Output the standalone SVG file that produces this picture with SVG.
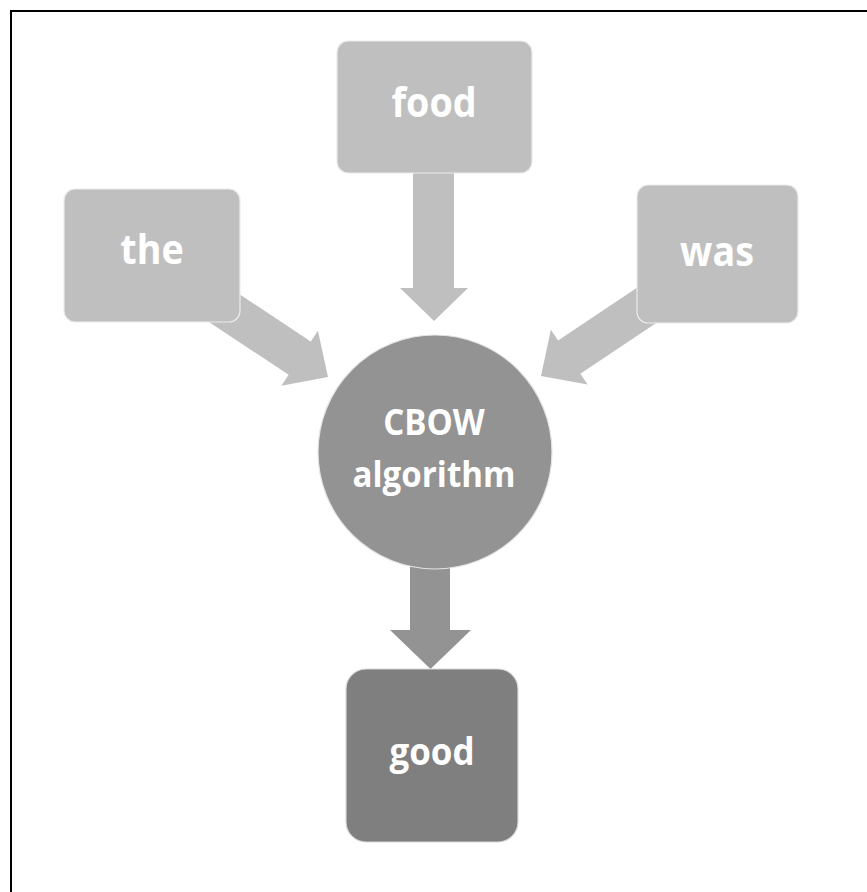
<svg xmlns="http://www.w3.org/2000/svg" width="867" height="892" viewBox="0 0 867 892">
  <style>
    .box-light { fill: #bfbfbf; stroke: #ececec; stroke-width: 1.2; }
    .box-dark { fill: #7f7f7f; stroke: #d8d8d8; stroke-width: 1.2; }
    .hub { fill: #939393; stroke: #e4e4e4; stroke-width: 1.2; }
    .arrow-light { fill: #bfbfbf; }
    .arrow-dark { fill: #939393; }
    .label { font-family: "Open Sans", "Liberation Sans", sans-serif; font-weight: 700; fill: #ffffff; text-anchor: middle; }
  </style>
  <defs>
    <!-- block arrow pointing along +x with its tip at the origin -->
    <polygon id="diag-arrow" points="-150,-20 -34,-20 -34,-33 0,0 -34,33 -34,20 -150,20"/>
  </defs>

  <rect width="867" height="892" fill="#ffffff"/>
  <!-- outer frame, open on the right and bottom edges -->
  <rect x="11" y="11" width="900" height="900" fill="none" stroke="#000000" stroke-width="2"/>

  <g id="connectors">
    <use href="#diag-arrow" class="arrow-light" transform="translate(328,377) rotate(33.6)"/>
    <use href="#diag-arrow" class="arrow-light" transform="translate(541,376) rotate(146.2)"/>
    <polygon class="arrow-light" points="413,160 454,160 454,288 468,288 434,321 400,288 413,288"/>
    <polygon class="arrow-dark" points="410,560 450,560 450,630 471,630 430.5,669 390,630 410,630"/>
  </g>

  <!-- labels use a slightly condensed bold face -->
  <g id="node-the">
    <rect class="box-light" x="64" y="189" width="176" height="133" rx="11"/>
    <text class="label" transform="translate(152,264) scale(0.92,1)" font-size="41">the</text>
  </g>

  <g id="node-food">
    <rect class="box-light" x="337" y="41" width="195" height="132" rx="11"/>
    <text class="label" transform="translate(434,117) scale(0.92,1)" font-size="41">food</text>
  </g>

  <g id="node-was">
    <rect class="box-light" x="637" y="185" width="161" height="138" rx="11"/>
    <text class="label" transform="translate(717,266) scale(0.92,1)" font-size="41">was</text>
  </g>

  <g id="node-cbow">
    <circle class="hub" cx="435" cy="452" r="117"/>
    <text class="label" transform="translate(434,435) scale(0.92,1)" font-size="36">CBOW</text>
    <text class="label" transform="translate(434,487) scale(0.92,1)" font-size="36">algorithm</text>
  </g>

  <g id="node-good">
    <rect class="box-dark" x="346" y="669" width="172" height="173" rx="20"/>
    <text class="label" transform="translate(432,765) scale(0.92,1)" font-size="38">good</text>
  </g>
</svg>
